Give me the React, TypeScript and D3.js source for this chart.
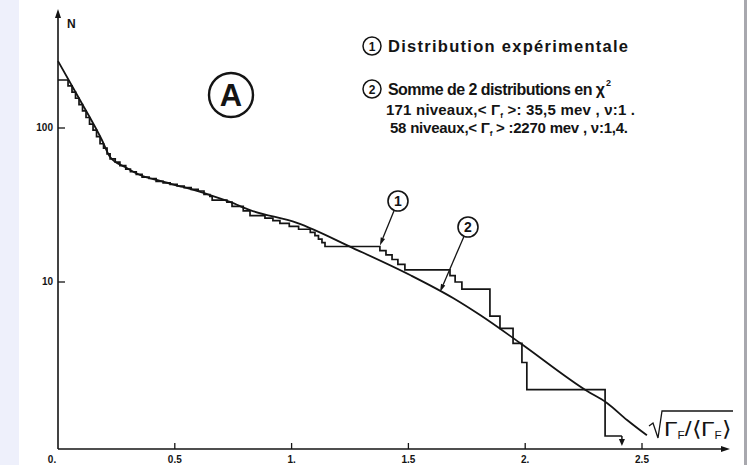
import React from "react";
import * as d3 from "d3";

// Fitted curve (2): sum of two chi-square distributions
const fitX = [0, 0.094, 0.188, 0.223, 0.287, 0.351, 0.437, 0.535, 0.651, 0.736, 0.822, 1.023, 1.263, 1.507, 1.691, 1.807, 1.978, 2.265, 2.35, 2.436, 2.521];
const fitN = [272, 152, 83.6, 64.8, 55.8, 49.5, 45.3, 41.4, 36.7, 33.1, 29.3, 24.2, 16.6, 11.1, 7.87, 6.1, 4.02, 1.96, 1.64, 1.27, 1.01];

// Experimental distribution (1): integral staircase
const stepX = [0, 0.043, 0.06, 0.075, 0.09, 0.105, 0.12, 0.135, 0.15, 0.165, 0.18, 0.195, 0.21, 0.223, 0.245, 0.265, 0.29, 0.31, 0.335, 0.36, 0.39, 0.42, 0.45, 0.48, 0.51, 0.54, 0.57, 0.6, 0.625, 0.65, 0.66, 0.723, 0.745, 0.793, 0.822, 0.886, 0.92, 0.95, 0.99, 1.03, 1.08, 1.1, 1.115, 1.13, 1.143, 1.378, 1.404, 1.43, 1.455, 1.485, 1.678, 1.7, 1.729, 1.849, 1.892, 1.948, 1.986, 2.007, 2.342, 2.414];
const stepN = [205, 188, 171, 156, 142, 129, 117, 106, 97, 88, 79, 74, 68, 63, 60, 57, 54, 52, 50, 48, 47, 45, 44, 43, 42, 41, 40, 39, 37, 36, 34, 33, 31, 29, 27, 26, 25, 24, 23, 22, 21, 20, 19, 18, 17, 16, 15, 14, 13, 12, 11, 10, 9, 6, 5, 4, 3, 2, 1, 1];

const xTicks = [0.5, 1, 1.5, 2, 2.5];
const xTickLabels = ["0.5", "1.", "1.5", "2.", "2.5"];
const yTicks = [10, 100];
const yTickLabels = ["10", "100"];

const W = 747;
const H = 465;
const FONT = "'Liberation Sans', Arial, sans-serif";
const INK = "#141414";

export default function App() {
  const x = d3.scaleLinear().domain([0, 2.5]).range([58, 642]);
  const y = d3.scaleLog().domain([1, 100]).range([436, 128]);
  const axisY = 449;
  const axisTop = 11;
  const axisRight = 728;

  const fitPts: [number, number][] = fitX.map((v, i) => [v, fitN[i]]);
  const stepPts: [number, number][] = stepX.map((v, i) => [v, stepN[i]]);

  const fitLine = d3
    .line<[number, number]>()
    .x((d) => x(d[0]))
    .y((d) => y(d[1]))
    .curve(d3.curveMonotoneX);
  const stepLine = d3
    .line<[number, number]>()
    .x((d) => x(d[0]))
    .y((d) => y(d[1]))
    .curve(d3.curveStepAfter);

  const endX = x(stepX[stepX.length - 1]);
  const endY = y(stepN[stepN.length - 1]);

  const callout = (cx: number, cy: number, tx: number, ty: number, label: string) => {
    const dx = tx - cx;
    const dy = ty - cy;
    const len = Math.sqrt(dx * dx + dy * dy);
    const ux = dx / len;
    const uy = dy / len;
    const sx = cx + ux * 10;
    const sy = cy + uy * 10;
    const bx = tx - ux * 8;
    const by = ty - uy * 8;
    const px = -uy * 2.3;
    const py = ux * 2.3;
    return (
      <g>
        <circle cx={cx} cy={cy} r={10} fill="white" stroke={INK} strokeWidth={1.6} />
        <text x={cx} y={cy + 5} textAnchor="middle" fontSize={14} fontWeight="bold" fontFamily={FONT} fill={INK}>
          {label}
        </text>
        <line x1={sx} y1={sy} x2={bx} y2={by} stroke={INK} strokeWidth={1.3} />
        <path d={`M${tx},${ty} L${bx + px},${by + py} L${bx - px},${by - py} Z`} fill={INK} />
      </g>
    );
  };

  return (
    <svg
      width={W}
      height={H}
      style={{ position: "fixed", left: 0, top: 0, display: "block" }}
      xmlns="http://www.w3.org/2000/svg"
    >
      <rect x={0} y={0} width={W} height={H} fill="#eef0fb" />
      <rect x={19} y={0} width={725} height={H} fill="#ffffff" />
      <rect x={744} y={0} width={3} height={H} fill="#a8a8ae" />

      {/* axes */}
      <line x1={58} y1={axisY} x2={58} y2={axisTop + 4} stroke={INK} strokeWidth={1.6} />
      <path d={`M58,${axisTop - 2} L55,${axisTop + 7} L61,${axisTop + 7} Z`} fill={INK} />
      <line x1={58} y1={axisY} x2={axisRight - 4} y2={axisY} stroke={INK} strokeWidth={1.6} />
      <path d={`M${axisRight + 2},${axisY} L${axisRight - 7},${axisY - 3} L${axisRight - 7},${axisY + 3} Z`} fill={INK} />

      {xTicks.map((t, i) => (
        <g key={"xt" + i}>
          <line x1={x(t)} y1={axisY} x2={x(t)} y2={axisY - 6} stroke={INK} strokeWidth={1.3} />
          <text x={x(t)} y={axisY + 14} textAnchor="middle" fontSize={10} fontWeight="bold" fontFamily={FONT} fill={INK}>
            {xTickLabels[i]}
          </text>
        </g>
      ))}
      <text x={52} y={axisY + 14} textAnchor="middle" fontSize={10} fontWeight="bold" fontFamily={FONT} fill={INK}>
        0.
      </text>
      {yTicks.map((t, i) => (
        <g key={"yt" + i}>
          <line x1={58} y1={y(t)} x2={65} y2={y(t)} stroke={INK} strokeWidth={1.3} />
          <text x={53} y={y(t) + 3} textAnchor="end" fontSize={10} fontWeight="bold" fontFamily={FONT} fill={INK}>
            {yTickLabels[i]}
          </text>
        </g>
      ))}
      <text x={67} y={28} fontSize={12} fontWeight="bold" fontFamily={FONT} fill={INK}>
        N
      </text>

      {/* curves */}
      <path d={fitLine(fitPts) || ""} fill="none" stroke={INK} strokeWidth={1.8} />
      <path d={stepLine(stepPts) || ""} fill="none" stroke={INK} strokeWidth={1.7} />
      <line x1={endX} y1={endY} x2={endX} y2={endY + 4} stroke={INK} strokeWidth={1.5} />
      <path d={`M${endX},${endY + 10} L${endX - 3},${endY + 3} L${endX + 3},${endY + 3} Z`} fill={INK} />

      {/* callouts */}
      {callout(398, 201, x(1.378), y(17) - 1, "1")}
      {callout(468, 227, 440, 292, "2")}

      {/* circled A */}
      <circle cx={231} cy={95} r={22} fill="none" stroke={INK} strokeWidth={2.4} />
      <text x={231} y={106} textAnchor="middle" fontSize={31} fontWeight="bold" fontFamily={FONT} fill={INK}>
        A
      </text>

      {/* legend */}
      <circle cx={372} cy={46} r={9} fill="none" stroke={INK} strokeWidth={1.5} />
      <text x={372} y={51} textAnchor="middle" fontSize={12} fontWeight="bold" fontFamily={FONT} fill={INK}>1</text>
      <text x={388} y={52} fontSize={16.5} fontWeight="bold" fontFamily={FONT} fill={INK} textLength={240} lengthAdjust="spacing">
        Distribution  expérimentale
      </text>

      <circle cx={372} cy={89} r={9} fill="none" stroke={INK} strokeWidth={1.5} />
      <text x={372} y={94} textAnchor="middle" fontSize={12} fontWeight="bold" fontFamily={FONT} fill={INK}>2</text>
      <text x={388} y={95} fontSize={16} fontWeight="bold" fontFamily={FONT} fill={INK} textLength={217} lengthAdjust="spacing">
        Somme de 2 distributions en χ
      </text>
      <text x={606} y={86} fontSize={9} fontWeight="bold" fontFamily={FONT} fill={INK}>2</text>

      <text x={386} y={115} fontSize={15} fontWeight="bold" fontFamily={FONT} fill={INK} textLength={249} lengthAdjust="spacing">
        171 niveaux,&lt; Γ<tspan fontSize={8} dy={3}>f</tspan><tspan dy={-3}> &gt;: 35,5  mev , ν:1 .</tspan>
      </text>
      <text x={390} y={133} fontSize={15} fontWeight="bold" fontFamily={FONT} fill={INK} textLength={238} lengthAdjust="spacing">
        58 niveaux,&lt; Γ<tspan fontSize={8} dy={3}>f</tspan><tspan dy={-3}> &gt; :2270  mev , ν:1,4.</tspan>
      </text>

      {/* x-axis label */}
      <path d="M649,426 L653,423 L658,438 L662,411 L733,411" fill="none" stroke={INK} strokeWidth={1.3} />
      <text x={664} y={436} fontSize={21} fontFamily={FONT} fill={INK} textLength={67} lengthAdjust="spacingAndGlyphs">
        Γ<tspan fontSize={10} dy={3}>F</tspan><tspan dy={-3}>/⟨Γ</tspan><tspan fontSize={10} dy={3}>F</tspan><tspan dy={-3}>⟩</tspan>
      </text>
    </svg>
  );
}
